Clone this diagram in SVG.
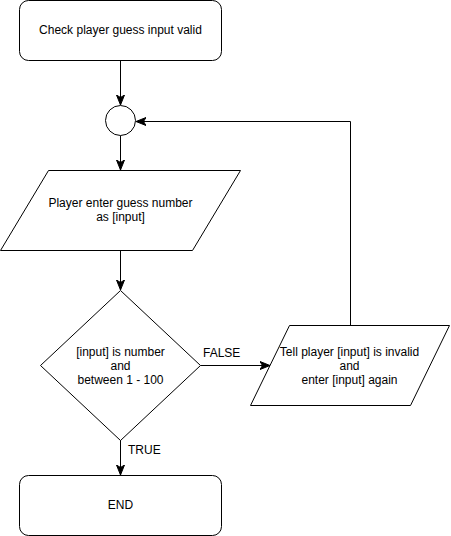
<svg xmlns="http://www.w3.org/2000/svg" width="451" height="536" viewBox="0 0 451 536">
<style>
.s{fill:#fff;stroke:#000;stroke-width:1}
.c{fill:none;stroke:#000;stroke-width:1}
text{font-family:"Liberation Sans",Arial,sans-serif;font-size:12px;fill:#000}
.m{text-anchor:middle}
</style>
<defs>
<marker id="a" viewBox="0 0 10 10" refX="10" refY="5" markerWidth="10" markerHeight="10" markerUnits="userSpaceOnUse" orient="auto">
<path d="M0,1 L10,5 L0,9 L2.5,5 Z" fill="#000" stroke="#000" stroke-width="1"/>
</marker>
</defs>
<rect width="451" height="536" fill="#fff"/>
<g id="connectors">
<path class="c" d="M120.5,60.5 V105" marker-end="url(#a)"/>
<path class="c" d="M120.5,135.5 V170" marker-end="url(#a)"/>
<path class="c" d="M120.5,250.5 V290" marker-end="url(#a)"/>
<path class="c" d="M200.5,365.5 H270" marker-end="url(#a)"/>
<path class="c" d="M350.5,325 V121.5 H136" marker-end="url(#a)"/>
<path class="c" d="M120.5,440 V475" marker-end="url(#a)"/>
<text x="203" y="357">FALSE</text>
<text x="128" y="454">TRUE</text>
</g>
<g id="start">
<rect class="s" x="19.5" y="0.5" width="202" height="60" rx="9"/>
<text class="m" x="120.5" y="34">Check player guess input valid</text>
</g>
<g id="junction">
<circle class="s" cx="120.5" cy="120.5" r="15"/>
</g>
<g id="input">
<path class="s" d="M48.5,170.5 H240.5 L192.5,250.5 H0.5 Z"/>
<text class="m" x="120.5" y="207">Player enter guess number</text>
<text class="m" x="120.5" y="221">as [input]</text>
</g>
<g id="decision">
<path class="s" d="M120.5,290.5 L200.5,365.5 L120.5,440.5 L40.5,365.5 Z"/>
<text class="m" x="120.5" y="356">[input] is number</text>
<text class="m" x="120.5" y="370">and</text>
<text class="m" x="120.5" y="384">between 1 - 100</text>
</g>
<g id="invalid">
<path class="s" d="M289.5,325.5 H449.5 L410.5,405.5 H250.5 Z"/>
<text class="m" x="349.5" y="356">Tell player [input] is invalid</text>
<text class="m" x="349.5" y="370">and</text>
<text class="m" x="349.5" y="384">enter [input] again</text>
</g>
<g id="end">
<rect class="s" x="19.5" y="475.5" width="202" height="60" rx="9"/>
<text class="m" x="120.5" y="509">END</text>
</g>
</svg>
